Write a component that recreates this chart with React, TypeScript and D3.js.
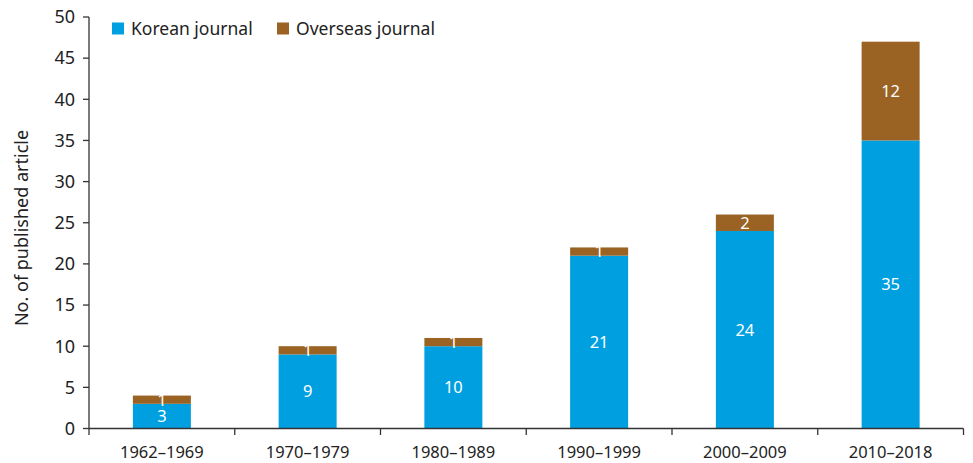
import React from "react";
import * as d3 from "d3";

const categories = ["1962–1969", "1970–1979", "1980–1989", "1990–1999", "2000–2009", "2010–2018"];
const korean = [3, 9, 10, 21, 24, 35];
const overseas = [1, 1, 1, 1, 2, 12];
const seriesNames = ["Korean journal", "Overseas journal"];
const colors = ["#009fe0", "#9a6324"];
const yTicks = [0, 5, 10, 15, 20, 25, 30, 35, 40, 45, 50];

const W = 973, H = 463;
const font = "'Noto Sans', 'Open Sans', sans-serif";
const axisColor = "#333";

export default function App() {
  const x = d3.scaleBand<string>().domain(categories).range([89, 963.5]);
  const y = d3.scaleLinear().domain([0, 50]).range([428.5, 17]);
  const step = x.step();
  const barW = 58;
  const stackData = categories.map((c, i) => ({ c, k: korean[i], o: overseas[i] }));
  const stack = d3.stack<any>().keys(["k", "o"])(stackData);

  return (
    <svg width={W} height={H} style={{ position: "absolute", left: 0, top: 0, background: "#fff" }} fontFamily={font}>
      {stack.map((layer, li) =>
        layer.map((d, i) => {
          const cx = (x(d.data.c) as number) + step / 2;
          const x0 = cx - barW / 2;
          const y0 = y(d[1]);
          const h = y(d[0]) - y(d[1]);
          const v = d[1] - d[0];
          return (
            <g key={`${li}-${i}`}>
              <rect x={x0} y={y0} width={barW} height={h} fill={colors[li]} />
              <text x={cx} y={y0 + h / 2} dy="0.36em" textAnchor="middle" fill="#fff" fontSize={16.5}>
                {v}
              </text>
            </g>
          );
        })
      )}
      {/* y axis */}
      <line x1={89} x2={89} y1={17} y2={428.5} stroke={axisColor} strokeWidth={1.3} />
      {yTicks.map((t) => (
        <g key={t}>
          <line x1={83} x2={89} y1={y(t)} y2={y(t)} stroke={axisColor} strokeWidth={1.3} />
          <text x={75} y={y(t)} dy="0.35em" textAnchor="end" fontSize={18} fill="#222">
            {t}
          </text>
        </g>
      ))}
      {/* x axis */}
      <line x1={89} x2={963.5} y1={428.5} y2={428.5} stroke={axisColor} strokeWidth={1.3} />
      {d3.range(categories.length + 1).map((i) => (
        <line key={i} x1={89 + step * i} x2={89 + step * i} y1={428.5} y2={435} stroke={axisColor} strokeWidth={1.3} />
      ))}
      {categories.map((c) => (
        <text key={c} x={(x(c) as number) + step / 2} y={452} dy="0.35em" textAnchor="middle" fontSize={16.5} fill="#222">
          {c}
        </text>
      ))}
      <text transform="translate(22,228) rotate(-90)" textAnchor="middle" dy="0.35em" fontSize={18} fill="#222">
        No. of published article
      </text>
      {/* legend */}
      {seriesNames.map((n, i) => {
        const lx = i === 0 ? 112 : 277;
        return (
          <g key={n}>
            <rect x={lx} y={22.5} width={12} height={12} fill={colors[i]} />
            <text x={lx + 19} y={28.5} dy="0.35em" fontSize={17.5} fill="#222">
              {n}
            </text>
          </g>
        );
      })}
    </svg>
  );
}
